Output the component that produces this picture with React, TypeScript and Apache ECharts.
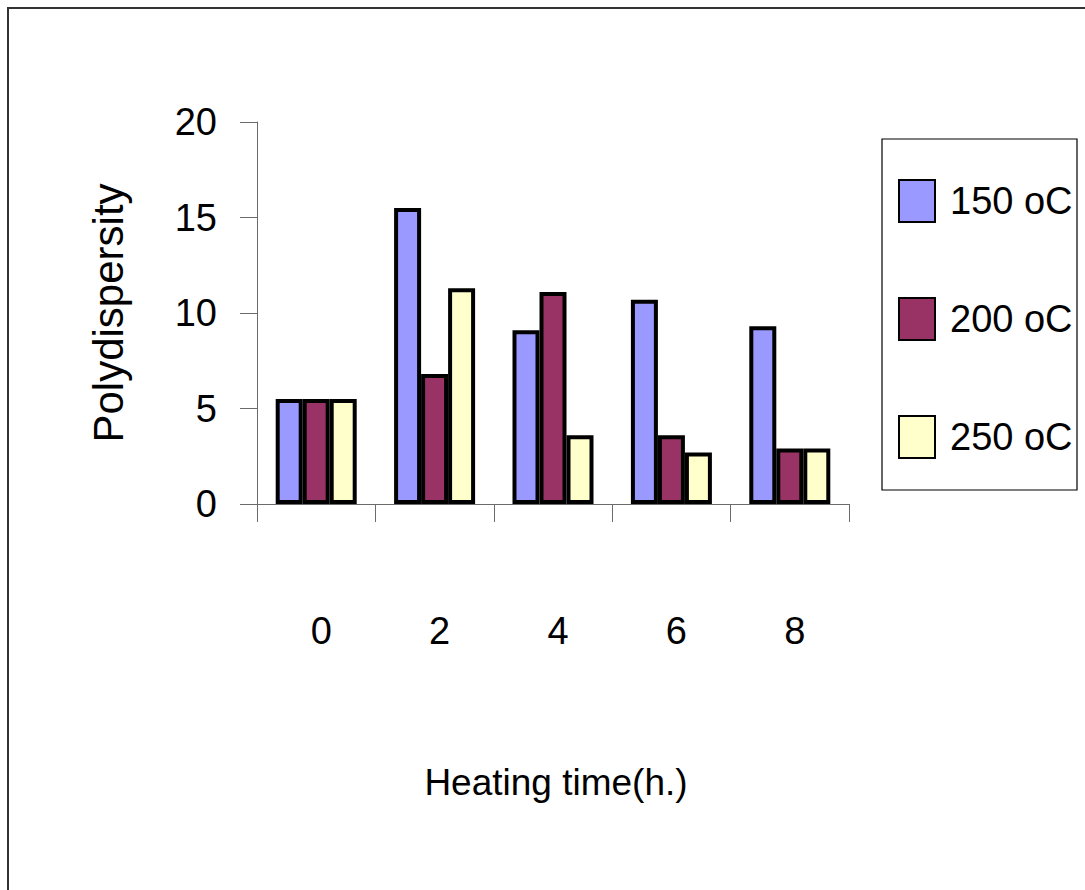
import React, { useEffect, useRef } from "react";
import * as echarts from "echarts";

const categories = ["0", "2", "4", "6", "8"];
const seriesNames = ["150 oC", "200 oC", "250 oC"];
const values150 = [5.5, 15.5, 9.1, 10.7, 9.3];
const values200 = [5.5, 6.8, 11.1, 3.6, 2.9];
const values250 = [5.5, 11.3, 3.6, 2.7, 2.9];
const colors = ["#9999FF", "#993366", "#FFFFCC"];
const yTicks = { min: 0, max: 20, interval: 5 };

const FONT = "'Liberation Sans', Arial, sans-serif";

export default function App() {
  const ref = useRef<HTMLDivElement>(null);
  useEffect(() => {
    if (!ref.current) return;
    const chart = echarts.init(ref.current, undefined, { renderer: "svg" });
    const data = [values150, values200, values250];
    chart.setOption({
      animation: false,
      backgroundColor: "#ffffff",
      textStyle: { fontFamily: FONT },
      grid: { left: 257, top: 122, right: 236, bottom: 386, containLabel: false },
      graphic: [
        {
          type: "rect",
          shape: { x: 8, y: 8, width: 1100, height: 900 },
          style: { fill: "none", stroke: "#333333", lineWidth: 2 },
          silent: true,
        },
        {
          type: "rect",
          shape: { x: 882, y: 139, width: 195, height: 351 },
          style: { fill: "#ffffff", stroke: "#000000", lineWidth: 1.2 },
          silent: true,
          z: 0,
        },
      ],
      legend: {
        orient: "vertical",
        left: 898,
        top: 179,
        padding: 0,
        itemWidth: 36,
        itemHeight: 42,
        itemGap: 74,
        icon: "rect",
        textStyle: { fontSize: 38, color: "#000", fontFamily: FONT, padding: [0, 0, 0, 10] },
        data: seriesNames,
        z: 5,
      },
      xAxis: {
        type: "category",
        data: categories,
        boundaryGap: true,
        axisLine: { lineStyle: { color: "#6b6b6b", width: 1 } },
        axisTick: { show: true, length: 18, lineStyle: { color: "#6b6b6b", width: 1 } },
        axisLabel: { fontSize: 38, color: "#000", margin: 108, fontFamily: FONT, padding: [0, 0, 0, 10] },
        name: "Heating time(h.)",
        nameLocation: "middle",
        nameGap: 260,
        nameTextStyle: { fontSize: 37, color: "#000", fontFamily: FONT, padding: [0, 0, 0, 6] },
      },
      yAxis: {
        type: "value",
        min: yTicks.min,
        max: yTicks.max,
        interval: yTicks.interval,
        splitLine: { show: false },
        axisLine: { show: true, lineStyle: { color: "#6b6b6b", width: 1 } },
        axisTick: { show: true, length: 17, lineStyle: { color: "#6b6b6b", width: 1 } },
        axisLabel: { fontSize: 38, color: "#000", margin: 40, fontFamily: FONT },
        name: "Polydispersity",
        nameLocation: "middle",
        nameGap: 128,
        nameTextStyle: { fontSize: 42, color: "#000", fontFamily: FONT },
      },
      series: seriesNames.map((n, i) => ({
        name: n,
        type: "bar",
        data: data[i],
        barWidth: 27,
        barGap: "0%",
        itemStyle: { color: colors[i], borderColor: "#000", borderWidth: 4 },
      })),
    });
    return () => chart.dispose();
  }, []);
  return (
    <div
      ref={ref}
      style={{ position: "absolute", left: 0, top: 0, width: 1085, height: 890 }}
    />
  );
}
